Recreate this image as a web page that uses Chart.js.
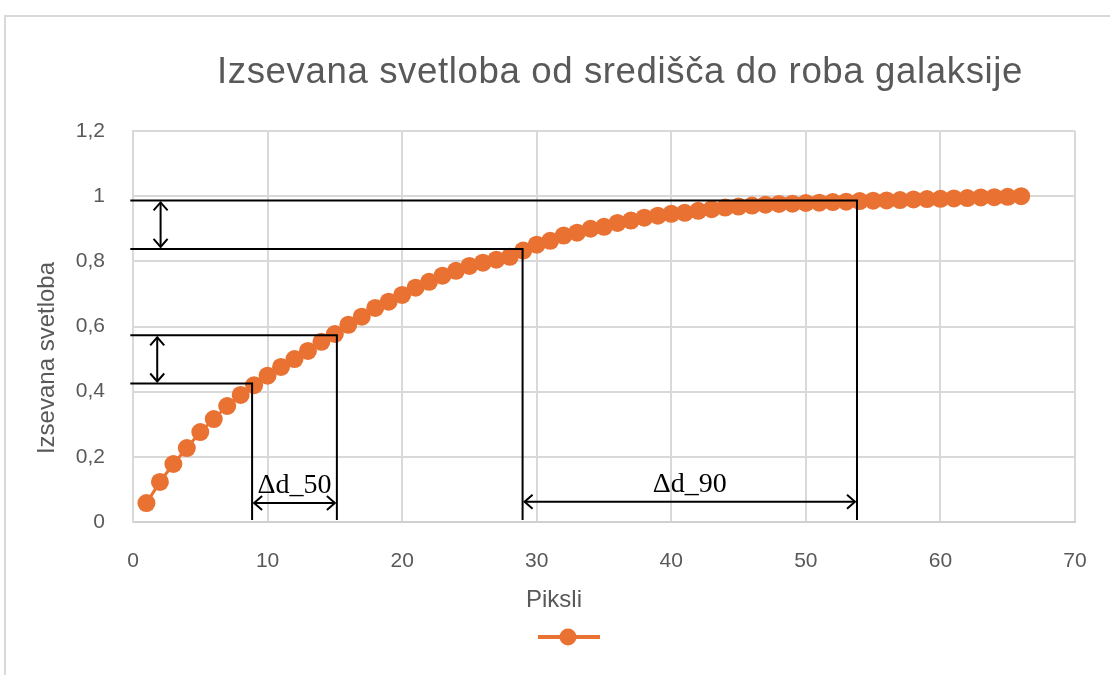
<!DOCTYPE html>
<html>
<head>
<meta charset="utf-8">
<script src="https://cdn.jsdelivr.net/npm/chart.js@4/dist/chart.umd.min.js"></script>
<style>
  html, body { margin: 0; padding: 0; background: #fff; }
  #wrap { position: relative; width: 1110px; height: 675px; overflow: hidden; }
  #frame { position: absolute; left: 4px; top: 15px; width: 1200px; height: 800px;
           border-left: 2px solid #d9d9d9; border-top: 2px solid #d9d9d9; box-sizing: border-box; }
  canvas { position: absolute; left: 0; top: 0; }
</style>
</head>
<body>
<div id="wrap">
  <div id="frame"></div>
  <canvas id="c" width="1110" height="675"></canvas>
</div>
<script>
// Radiated light, cumulative, from the galaxy centre outwards (per pixel)
const pixels = [];
for (let i = 1; i <= 66; i++) pixels.push(i);
const light = [
  0.058, 0.123, 0.178, 0.227, 0.276, 0.316, 0.356, 0.390, 0.420, 0.449,
  0.476, 0.500, 0.525, 0.553, 0.577, 0.605, 0.630, 0.657, 0.676, 0.697,
  0.719, 0.737, 0.756, 0.771, 0.786, 0.796, 0.805, 0.814, 0.833, 0.851,
  0.863, 0.879, 0.888, 0.900, 0.906, 0.918, 0.925, 0.934, 0.940, 0.946,
  0.949, 0.955, 0.960, 0.965, 0.968, 0.971, 0.974, 0.976, 0.977, 0.979,
  0.980, 0.982, 0.983, 0.985, 0.986, 0.987, 0.988, 0.990, 0.991, 0.992,
  0.993, 0.994, 0.996, 0.997, 0.998, 1.000
];

// Guide lines: radius (x) and light level (y) of the four reading points
const guideX = [8.85, 15.15, 28.95, 53.8];
const guideY = [0.425, 0.573, 0.838, 0.987];
// Dimension labels and where their arrows sit
const spanLabels = ['Δd_50', 'Δd_90'];
const spanArrowY = [0.058, 0.062];
const levelArrowX = [1.8, 2.05];

const titleText = 'Izsevana svetloba od središča do roba galaksije';
const xTitle = 'Piksli';
const yTitle = 'Izsevana svetloba';

const ORANGE = '#E97132';
const GREY = '#595959';
const SANS = "'Liberation Sans Narrow', 'Liberation Sans', Arial, sans-serif";
const SERIF = "'Liberation Serif', 'Times New Roman', serif";

function arrowHead(ctx, x, y, dx, dy) {
  // open V head pointing in direction (dx, dy)
  const len = 8, half = 7;
  const px = -dy, py = dx;
  ctx.beginPath();
  ctx.moveTo(x - dx * len + px * half, y - dy * len + py * half);
  ctx.lineTo(x, y);
  ctx.lineTo(x - dx * len - px * half, y - dy * len - py * half);
  ctx.stroke();
}
function dblArrow(ctx, x1, y1, x2, y2) {
  const L = Math.hypot(x2 - x1, y2 - y1);
  const dx = (x2 - x1) / L, dy = (y2 - y1) / L;
  ctx.beginPath();
  ctx.moveTo(x1, y1);
  ctx.lineTo(x2, y2);
  ctx.stroke();
  arrowHead(ctx, x2, y2, dx, dy);
  arrowHead(ctx, x1, y1, -dx, -dy);
}

const decorations = {
  id: 'decorations',
  afterDatasetsDraw(chart) {
    const ctx = chart.ctx;
    const xs = chart.scales.x, ys = chart.scales.y;
    const left = xs.getPixelForValue(-0.2);
    const floor = ys.getPixelForValue(0.006);
    ctx.save();
    ctx.strokeStyle = '#000';
    ctx.lineWidth = 2;
    ctx.lineCap = 'butt';
    // level lines running to the curve, then down to the axis
    for (let i = 0; i < guideX.length; i++) {
      const gx = xs.getPixelForValue(guideX[i]);
      const gy = ys.getPixelForValue(guideY[i]);
      ctx.beginPath();
      ctx.moveTo(left, gy);
      ctx.lineTo(gx, gy);
      ctx.lineTo(gx, floor);
      ctx.stroke();
    }
    // vertical arrows between the paired levels
    for (let k = 0; k < 2; k++) {
      const ax = xs.getPixelForValue(levelArrowX[k]);
      const y1 = ys.getPixelForValue(guideY[2 * k + 1]) + 2;
      const y2 = ys.getPixelForValue(guideY[2 * k]) - 2;
      dblArrow(ctx, ax, y1, ax, y2);
    }
    // horizontal arrows between the paired radii, with labels
    ctx.fillStyle = '#000';
    ctx.font = '28px ' + SERIF;
    ctx.textAlign = 'center';
    ctx.textBaseline = 'alphabetic';
    for (let k = 0; k < 2; k++) {
      const x1 = xs.getPixelForValue(guideX[2 * k]) + 2;
      const x2 = xs.getPixelForValue(guideX[2 * k + 1]) - 2;
      const ay = ys.getPixelForValue(spanArrowY[k]);
      dblArrow(ctx, x1, ay, x2, ay);
      ctx.fillText(spanLabels[k], (x1 + x2) / 2, ay - 10);
    }
    ctx.restore();
  },
  afterDraw(chart) {
    const ctx = chart.ctx;
    ctx.save();
    ctx.fillStyle = GREY;
    // chart title
    ctx.font = '37px ' + SANS;
    if ('letterSpacing' in ctx) ctx.letterSpacing = '0.6px';
    ctx.textAlign = 'center';
    ctx.textBaseline = 'alphabetic';
    ctx.fillText(titleText, 620, 83, 806);
    if ('letterSpacing' in ctx) ctx.letterSpacing = '0px';
    // axis titles
    ctx.font = '24px ' + SANS;
    ctx.fillText(xTitle, 554, 607, 62);
    ctx.translate(54, 358);
    ctx.rotate(-Math.PI / 2);
    ctx.fillText(yTitle, 0, 0, 193);
    ctx.restore();
    // legend key: line with marker
    ctx.save();
    ctx.strokeStyle = ORANGE;
    ctx.fillStyle = ORANGE;
    ctx.lineWidth = 4;
    ctx.beginPath();
    ctx.moveTo(538, 637);
    ctx.lineTo(600, 637);
    ctx.stroke();
    ctx.beginPath();
    ctx.arc(568, 637, 8.5, 0, Math.PI * 2);
    ctx.fill();
    ctx.restore();
  }
};

new Chart(document.getElementById('c'), {
  type: 'scatter',
  data: {
    datasets: [{
      label: '',
      data: pixels.map((p, i) => ({ x: p, y: light[i] })),
      showLine: true,
      borderColor: ORANGE,
      backgroundColor: ORANGE,
      borderWidth: 3,
      pointRadius: 9,
      pointBorderWidth: 0,
      pointHoverRadius: 9
    }]
  },
  options: {
    responsive: false,
    animation: false,
    events: [],
    layout: { padding: { top: 131, left: 0, right: 35, bottom: 63 } },
    plugins: { legend: { display: false }, title: { display: false }, tooltip: { enabled: false } },
    scales: {
      x: {
        type: 'linear', min: 0, max: 70,
        ticks: { stepSize: 10, padding: 27, color: GREY, font: { family: SANS, size: 21 } },
        grid: { color: '#d9d9d9', lineWidth: 2, drawTicks: false },
        border: { color: '#d0d0d0', width: 2 },
        afterFit(scale) {
          scale.height = 90;
          scale.paddingLeft = 0;
          scale.paddingRight = 0;
        }
      },
      y: {
        min: 0, max: 1.2,
        ticks: {
          stepSize: 0.2, padding: 28, color: GREY, font: { family: SANS, size: 21 },
          callback: v => String(Math.round(v * 10) / 10).replace('.', ',')
        },
        grid: { color: '#d9d9d9', lineWidth: 2, drawTicks: false },
        border: { color: '#d9d9d9', width: 2 },
        afterFit(scale) { scale.width = 133; }
      }
    }
  },
  plugins: [decorations]
});
</script>
</body>
</html>
